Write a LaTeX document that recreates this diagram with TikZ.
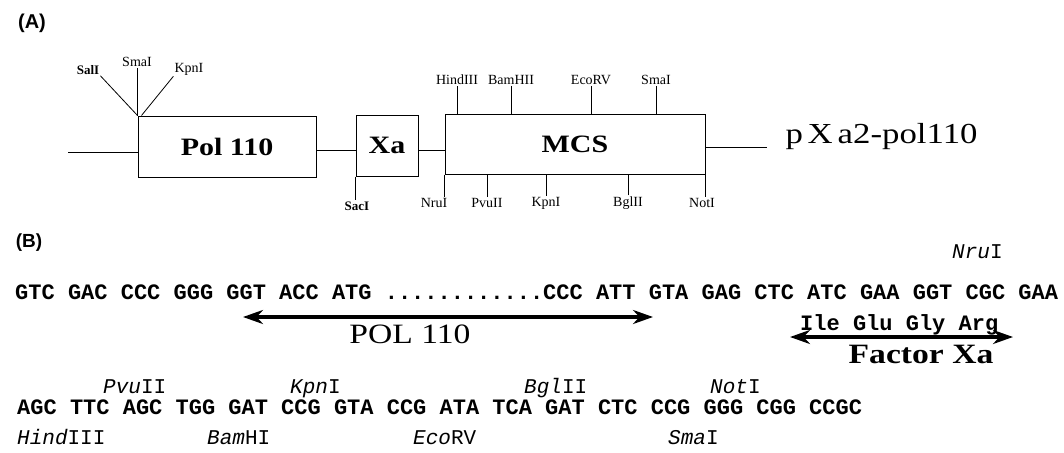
\documentclass[tikz,border=0pt]{standalone}
\usepackage{fontspec}
\setmainfont{Liberation Serif}
\setsansfont{Liberation Sans}
\setmonofont{Liberation Mono}
\newfontfamily\wideserif[FakeStretch=1.2]{Liberation Serif}
\usepackage{tikz}
\usetikzlibrary{arrows.meta,positioning,calc}

\begin{document}
\begin{tikzpicture}[
    x=1pt, y=-1pt,
    gene/.style={rectangle, draw, line width=1pt, inner sep=0pt, font=\wideserif\bfseries\fontsize{25}{25}\selectfont},
    site/.style={inner sep=1pt, font=\fontsize{14}{14}\selectfont},
    cut/.style={line width=0.8pt},
    seq/.style={inner sep=0pt, anchor=base west, font=\ttfamily\bfseries\fontsize{22}{22}\selectfont},
    enz/.style={inner sep=0pt, anchor=base west, font=\ttfamily\fontsize{21}{21}\selectfont},
    span/.style={line width=3.6pt, {Stealth[length=20pt,width=14pt]}-{Stealth[length=20pt,width=14pt]}},
    panel/.style={font=\sffamily\bfseries\fontsize{20}{20}\selectfont}
]
    \useasboundingbox (0,0) rectangle (1064,452);

    % (A) construct map
    \node[panel] (pA) at (32,23) {(A)};
    \node[gene, minimum width=178pt, minimum height=61pt] (pol) at (227,146.5) {Pol 110};
    \node[gene, minimum width=62pt, minimum height=61pt] (xa) at (387,145.5) {Xa};
    \node[gene, minimum width=260pt, minimum height=60pt] (mcs) at (575,144) {MCS};
    \node[anchor=west, font=\wideserif\fontsize{29}{29}\selectfont] (pxa) at (782,137) {p\,X\,a2-pol110};
    \coordinate (lend) at (68,152);
    \coordinate (rend) at (767,147);

    \draw[cut] (lend) -- ([yshift=-5.5pt]pol.west);
    \draw[cut] ([yshift=-3.5pt]pol.east) -- ([yshift=-4.5pt]xa.west);
    \draw[cut] ([yshift=-4.5pt]xa.east) -- ([yshift=-6pt]mcs.west);
    \draw[cut] ([yshift=-3pt]mcs.east) -- (rend);

    % sites at the Pol 110 end
    \node[site, font=\bfseries\fontsize{13}{13}\selectfont] (salA) at (88,70) {SalI};
    \node[site] (smaA) at (137,62) {SmaI};
    \node[site] (kpnA) at (189,69) {KpnI};
    \draw[cut] (pol.north west) -- (salA.south east);
    \draw[cut] (pol.north west) -- (pol.north west |- smaA.south);
    \draw[cut] ([xshift=4pt]pol.north west) -- (kpnA.south west);

    \node[site, font=\bfseries\fontsize{13}{13}\selectfont] (sacA) at (357,206) {SacI};
    \draw[cut] (xa.south west) -- (xa.south west |- sacA.north);

    % sites in the MCS
    \node[site] (hindA) at (457,80) {HindIII};
    \node[site] (bamA) at (511,80) {BamHII};
    \node[site] (ecoA) at (591,80) {EcoRV};
    \node[site] (smaB) at (656,80) {SmaI};
    \foreach \s in {hindA,bamA,ecoA,smaB}
        \draw[cut] (\s.south) -- (\s.south |- mcs.north);

    \node[site] (nruA) at (434,203) {NruI};
    \node[site] (pvuA) at (487,203) {PvuII};
    \node[site] (kpnB) at (546,203) {KpnI};
    \node[site] (bglA) at (628,203) {BglII};
    \node[site] (notA) at (702,203) {NotI};
    \draw[cut] (mcs.south west) -- (mcs.south west |- nruA.north);
    \draw[cut] (mcs.south east) -- (mcs.south east |- notA.north);
    \foreach \s in {pvuA,kpnB,bglA}
        \draw[cut] (\s.north) -- (\s.north |- mcs.south);

    % (B) sequence
    \node[panel, font=\sffamily\bfseries\fontsize{19}{19}\selectfont] (pB) at (29,243) {(B)};
    \node[seq] (row1) at (15,299) {GTC GAC CCC GGG GGT ACC ATG ............CCC ATT GTA GAG CTC ATC GAA GGT CGC GAA};
    \node[enz] (nruB) at (952,258) {\textit{Nru}I};

    \coordinate (polL) at (243,317);
    \coordinate (polR) at (653,317);
    \draw[span] (polL) -- (polR);
    \node[font=\wideserif\fontsize{28}{28}\selectfont] (poltxt) at (410,334) {POL 110};

    \node[seq] (fxaa) at (800,330) {Ile Glu Gly Arg};
    \coordinate (fxaL) at (790,337);
    \coordinate (fxaR) at (1013,337);
    \draw[span] (fxaL) -- (fxaR);
    \node[font=\wideserif\bfseries\fontsize{28}{28}\selectfont] (fxatxt) at (921,354) {Factor Xa};

    \node[seq] (row2) at (17,414) {AGC TTC AGC TGG GAT CCG GTA CCG ATA TCA GAT CTC CCG GGG CGG CCGC};
    \node[enz] (pvuB) at (103,393) {\textit{Pvu}II};
    \node[enz] (kpnC) at (290,393) {\textit{Kpn}I};
    \node[enz] (bglB) at (524,393) {\textit{Bgl}II};
    \node[enz] (notB) at (710,393) {\textit{Not}I};
    \node[enz] (hindB) at (17,444) {\textit{Hind}III};
    \node[enz] (bamB) at (207,444) {\textit{Bam}HI};
    \node[enz] (ecoB) at (413,444) {\textit{Eco}RV};
    \node[enz] (smaC) at (668,444) {\textit{Sma}I};

\end{tikzpicture}
\end{document}
